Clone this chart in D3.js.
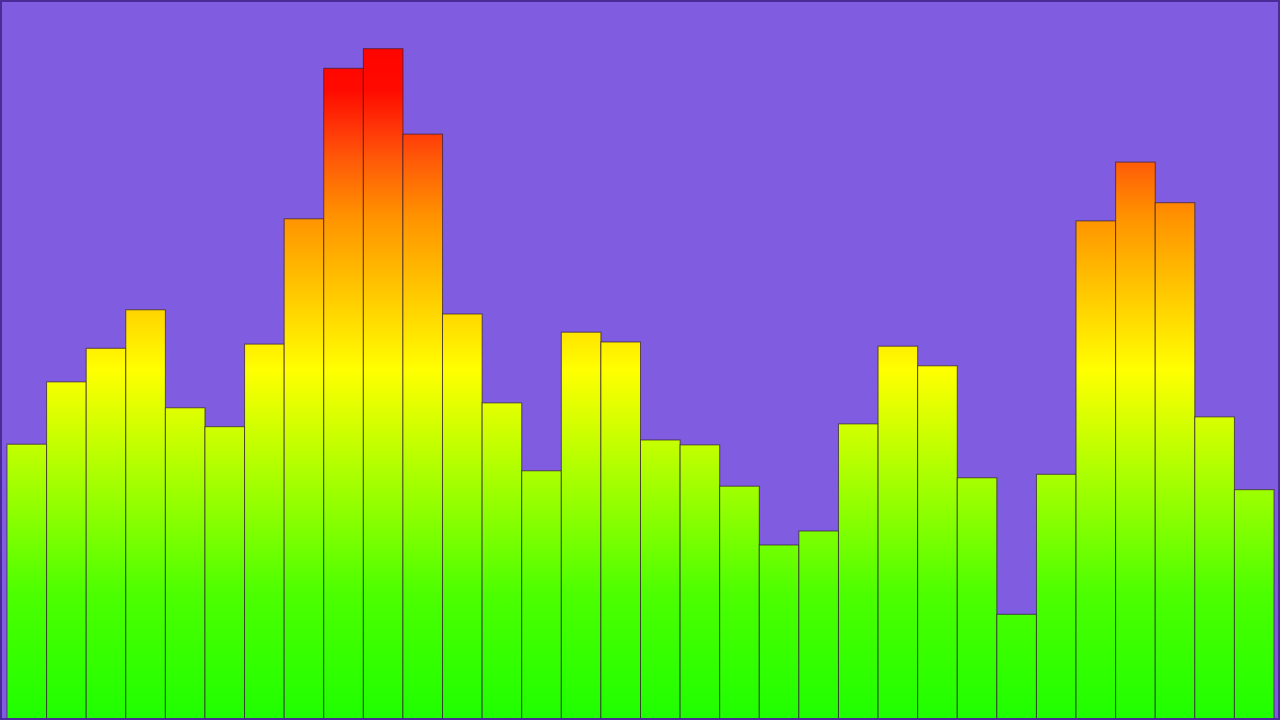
<!DOCTYPE html>
<html>
<head>
<meta charset="utf-8">
<script src="https://cdn.jsdelivr.net/npm/d3@7"></script>
<style>
  html, body { margin: 0; padding: 0; background: #805ce0; overflow: hidden; }
  svg { display: block; }
</style>
</head>
<body>
<div id="mainDiv"></div>
<script>
'use strict';

// bar levels, left to right (0-100 scale)
var levels = [39.4, 48.3, 53.1, 58.6, 44.6, 41.9, 53.7, 71.6, 93.1, 95.9, 83.7, 58.0,
              45.3, 35.6, 55.4, 54.0, 40.0, 39.3, 33.4, 25.0, 27.0, 42.3, 53.4, 50.6,
              34.6, 15.1, 35.1, 71.3, 79.7, 73.9, 43.3, 32.9];
var bands = d3.range(levels.length);

// gradient stops by level: green at the floor, yellow mid, red at the top
var stopLevels = [0, 18, 50, 72, 80, 84, 90, 100];
var stopColors = ['#1eff00', '#4cff00', '#ffff00', '#ff9200', '#ff5a08', '#ff3a08', '#ff0a00', '#ff0000'];

var W = 1280, H = 720;

var svg = d3.select('#mainDiv').append('svg')
    .attr('width', W)
    .attr('height', H);

var x = d3.scaleBand().domain(bands).range([7, 1274]).padding(0);
var y = d3.scaleLinear().domain([0, 100]).range([H, 20]);

var defs = svg.append('defs');
var grad = defs.append('linearGradient')
    .attr('id', 'barGrad')
    .attr('gradientUnits', 'userSpaceOnUse')
    .attr('x1', 0).attr('x2', 0)
    .attr('y1', y(0)).attr('y2', y(100));

grad.selectAll('stop')
    .data(stopLevels)
    .enter()
    .append('stop')
    .attr('offset', function(d) { return d / 100; })
    .attr('stop-color', function(d, i) { return stopColors[i]; });

svg.append('rect')
    .attr('width', W).attr('height', H)
    .attr('fill', '#805ce0');

svg.append('g').selectAll('rect')
    .data(levels)
    .enter()
    .append('rect')
    .attr('x', function(d, i) { return x(i); })
    .attr('y', function(d) { return y(d); })
    .attr('width', x.bandwidth())
    .attr('height', function(d) { return y(0) - y(d); })
    .attr('fill', 'url(#barGrad)')
    .attr('stroke', 'rgba(50,30,50,0.7)')
    .attr('stroke-width', 1);

// dark frame edge
svg.append('rect')
    .attr('x', 1).attr('y', 1)
    .attr('width', W - 2).attr('height', H - 2)
    .attr('fill', 'none')
    .attr('stroke', '#4a2b98')
    .attr('stroke-width', 2);
</script>
</body>
</html>
